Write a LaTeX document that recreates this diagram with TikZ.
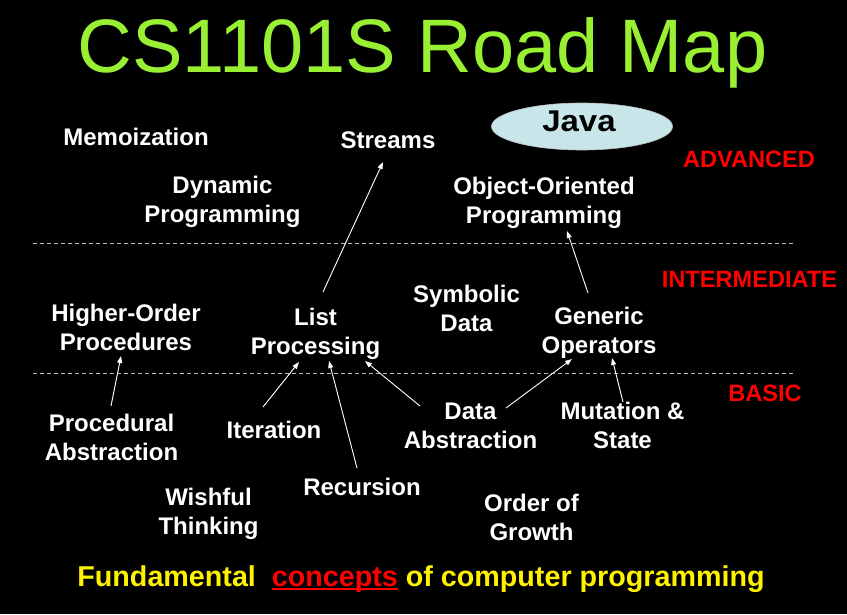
\documentclass[tikz,border=0pt]{standalone}
\usepackage{fontspec}
\setmainfont{Liberation Sans}
\usetikzlibrary{shapes.geometric,arrows.meta,calc}
\definecolor{titlegreen}{RGB}{153,240,51}
\definecolor{javacyan}{RGB}{200,230,234}
\definecolor{sepgray}{RGB}{185,185,185}
\newcommand\redul[1]{\setbox0=\hbox{#1}\rlap{\rule[-4pt]{\wd0}{2pt}}\box0}
\begin{document}
\begin{tikzpicture}[x=1pt,y=-1pt,
  lbl/.style={text=white,font=\fontsize{24}{29}\selectfont\bfseries,align=center,inner sep=0pt},
  lvl/.style={text=red,font=\fontsize{23.6}{28}\selectfont\bfseries,inner sep=0pt,anchor=base},
  arr/.style={draw=white,line width=0.9pt,-{Triangle[length=7pt,width=5pt]}},
  sepline/.style={draw=sepgray,line width=1pt,dash pattern=on 4pt off 3pt}]
\fill[black] (0,0) rectangle (847,614);
\useasboundingbox (0,0) rectangle (847,614);
% title
\node[anchor=base,text=titlegreen,font=\fontsize{75.8}{80}\selectfont,inner sep=0pt] (title) at (422.5,72) {CS1101S Road Map};
% separators
\draw[sepline] (33,243) -- (795,243);
\draw[sepline] (33,373) -- (795,373);
% level labels
\node[lvl] (adv) at (749,167) {ADVANCED};
\node[lvl] (inter) at (749.5,287) {INTERMEDIATE};
\node[lvl] (basic) at (765,401) {BASIC};
% java
\node[ellipse,fill=javacyan,draw=gray!50,line width=0.6pt,minimum width=181pt,minimum height=47pt,inner sep=0pt] (java) at (582,126.5) {};
\node[anchor=base,inner sep=0pt,font=\fontsize{30}{30}\selectfont\bfseries,xscale=1.1,text=black] (javatxt) at ($(java)+(-3,5.2)$) {Java};
% advanced
\node[lbl,anchor=base] (memo) at (136,145.6) {Memoization};
\node[lbl,anchor=base] (st) at (388,148.6) {Streams};
\node[lbl] (dp) at (222.5,202) {Dynamic\\Programming};
\node[lbl] (oop) at (544,202.5) {Object-Oriented\\Programming};
% intermediate
\node[lbl] (hop) at (126,327) {Higher-Order\\Procedures};
\node[lbl] (lp) at (315.5,333.5) {List\\Processing};
\node[lbl] (sd) at (466.5,308) {Symbolic\\Data};
\node[lbl] (go) at (599,332.5) {Generic\\Operators};
% basic
\node[lbl] (pa) at (111.5,437.5) {Procedural\\Abstraction};
\node[lbl,anchor=base] (it) at (274,438.6) {Iteration};
\node[lbl] (da) at (470.5,425.5) {Data\\Abstraction};
\node[lbl] (ms) at (622.5,425.5) {Mutation \&\\State};
\node[lbl] (wt) at (208.5,513.5) {Wishful\\Thinking};
\node[lbl,anchor=base] (rec) at (362,495.1) {Recursion};
\node[lbl] (og) at (531.5,517) {Order of\\Growth};
% bottom line
\node[anchor=base,inner sep=0pt,text=yellow,font=\fontsize{28.7}{30}\selectfont\bfseries] (fund) at (421,586) {Fundamental\ \ {\color{red}\redul{concepts}} of computer programming};
% arrows
\draw[arr] ($(lp)+(7.5,-41.5)$) -- ($(st.base)+(-5,13.4)$);
\draw[arr] ($(go)+(-11,-39.5)$) -- ($(oop)+(23,28.5)$);
\draw[arr] ($(pa)+(-0.5,-31.5)$) -- ($(hop)+(-5,29)$);
\draw[arr] ($(it.base)+(-11,-31.6)$) -- ($(lp)+(-16.5,28.5)$);
\draw[arr] ($(rec.base)+(-5,-27.1)$) -- ($(lp)+(13.5,27.5)$);
\draw[arr] ($(da)+(-50.5,-19.5)$) -- ($(lp)+(49.5,27.5)$);
\draw[arr] ($(da)+(35.5,-17.5)$) -- ($(go)+(-27,26.5)$);
\draw[arr] ($(ms)+(0.5,-23.5)$) -- ($(go)+(13,25.5)$);
\end{tikzpicture}
\end{document}
